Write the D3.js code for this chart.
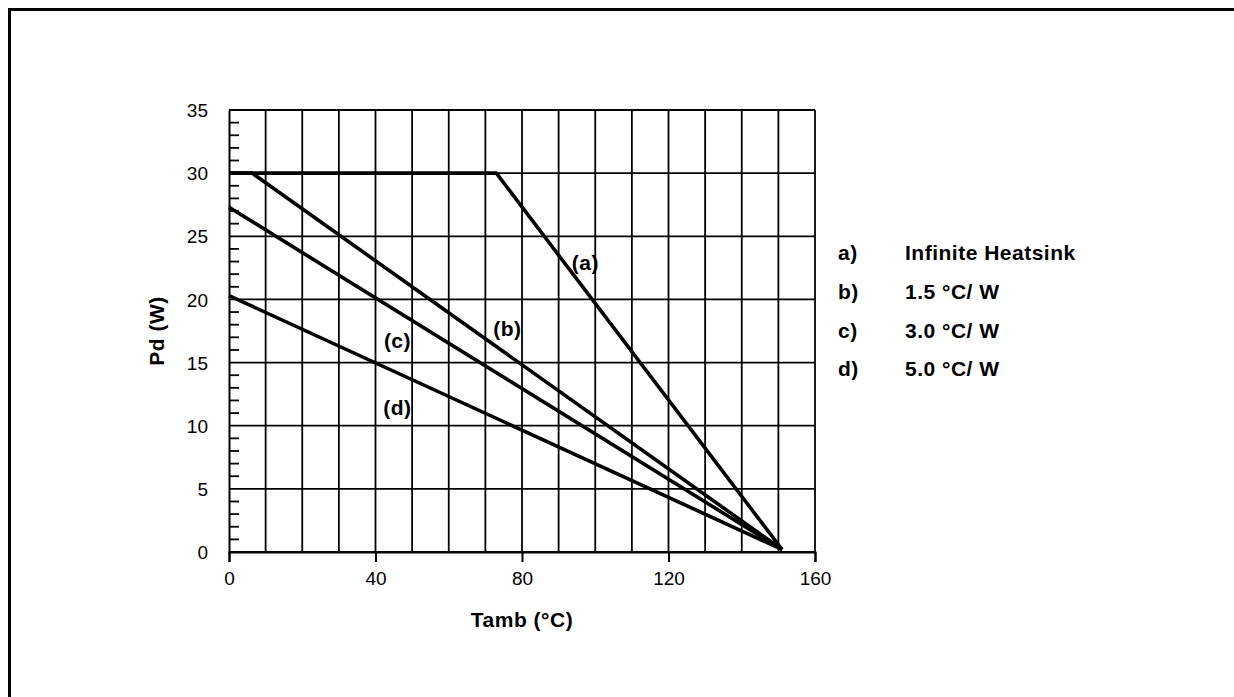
<!DOCTYPE html>
<html>
<head>
<meta charset="utf-8">
<script src="https://cdn.jsdelivr.net/npm/d3@7"></script>
<style>
  body { margin: 0; background: #fff; }
  text { font-family: "Liberation Sans", Arial, sans-serif; fill: #000; }
  .bold { font-weight: bold; letter-spacing: 0.5px; }
</style>
</head>
<body>
<svg width="1234" height="697"></svg>
<script>
// curve data: ambient temperature (degC) vs max dissipation (W)
var tempA = [0, 73, 151];
var pdA = [30, 30, 0.2];
var tempB = [0, 6.3, 151];
var pdB = [30, 30, 0.2];
var tempC = [0, 151];
var pdC = [27.3, 0.2];
var tempD = [0, 151];
var pdD = [20.3, 0.2];

var curveLabels = ["(a)", "(b)", "(c)", "(d)"];
var labelTemps = [97.3, 76, 46, 46];
var labelPds = [22.9, 17.7, 16.7, 11.4];

var legendKeys = ["a)", "b)", "c)", "d)"];
var legendTexts = ["Infinite Heatsink", "1.5 \u00B0C/ W", "3.0 \u00B0C/ W", "5.0 \u00B0C/ W"];

var xTicks = [0, 40, 80, 120, 160];
var yTicks = [0, 5, 10, 15, 20, 25, 30, 35];

var svg = d3.select("svg");

// outer frame (only top and left are in view)
svg.append("rect")
  .attr("x", 9.5).attr("y", 9.5)
  .attr("width", 1300).attr("height", 800)
  .attr("fill", "none").attr("stroke", "#000").attr("stroke-width", 3);

var x = d3.scaleLinear().domain([0, 160]).range([229, 815]);
var y = d3.scaleLinear().domain([0, 35]).range([552, 110]);

// grid
svg.append("g")
  .selectAll("line.v")
  .data(d3.range(10, 161, 10))
  .enter()
  .append("line")
  .attr("x1", d => x(d)).attr("x2", d => x(d))
  .attr("y1", y(35)).attr("y2", y(0))
  .attr("stroke", "#000").attr("stroke-width", 1.8);

svg.append("g")
  .selectAll("line.h")
  .data(yTicks)
  .enter()
  .append("line")
  .attr("x1", x(0)).attr("x2", x(160))
  .attr("y1", d => y(d)).attr("y2", d => y(d))
  .attr("stroke", "#000").attr("stroke-width", 1.8);

// minor ticks on the left axis
svg.append("g")
  .selectAll("line")
  .data(d3.range(1, 35).filter(d => d % 5 != 0))
  .enter()
  .append("line")
  .attr("x1", x(0)).attr("x2", x(0) + 10)
  .attr("y1", d => y(d)).attr("y2", d => y(d))
  .attr("stroke", "#000").attr("stroke-width", 1.8);

var xAxis = d3.axisBottom(x).tickValues(xTicks).tickSize(10).tickPadding(10);
var yAxis = d3.axisLeft(y).tickValues(yTicks).tickSize(0).tickPadding(21);

var gx = svg.append("g")
  .attr("transform", "translate(0," + y(0) + ")")
  .call(xAxis);
var gy = svg.append("g")
  .attr("transform", "translate(" + x(0) + ",0)")
  .call(yAxis);

[gx, gy].forEach(function(g) {
  g.select(".domain").attr("stroke", "#000").attr("stroke-width", 2);
  g.selectAll(".tick line").attr("stroke", "#000").attr("stroke-width", 2);
  g.selectAll(".tick text")
    .attr("font-family", "Liberation Sans, Arial, sans-serif")
    .attr("font-size", 19).attr("fill", "#000");
});
gy.selectAll(".tick text").attr("dy", "0.35em");

// curves
var line = d3.line().x(d => x(d[0])).y(d => y(d[1]));
var curves = [
  d3.zip(tempA, pdA),
  d3.zip(tempB, pdB),
  d3.zip(tempC, pdC),
  d3.zip(tempD, pdD)
];
svg.append("g")
  .selectAll("path")
  .data(curves)
  .enter()
  .append("path")
  .attr("d", line)
  .attr("fill", "none")
  .attr("stroke", "#000")
  .attr("stroke-width", 3.6)
  .attr("stroke-linejoin", "round");

// curve labels
svg.append("g")
  .selectAll("text")
  .data(curveLabels)
  .enter()
  .append("text")
  .attr("class", "bold")
  .attr("x", (d, i) => x(labelTemps[i]))
  .attr("y", (d, i) => y(labelPds[i]))
  .attr("dy", "0.35em")
  .attr("text-anchor", "middle")
  .attr("font-size", 21)
  .text(d => d);

// axis titles
svg.append("text")
  .attr("class", "bold")
  .attr("x", x(80)).attr("y", 620)
  .attr("dy", "0.35em")
  .attr("text-anchor", "middle")
  .attr("font-size", 21)
  .text("Tamb (\u00B0C)");

svg.append("text")
  .attr("class", "bold")
  .attr("transform", "translate(157," + y(17.5) + ") rotate(-90)")
  .attr("dy", "0.35em")
  .attr("text-anchor", "middle")
  .attr("font-size", 21)
  .text("Pd (W)");

// legend
var legend = svg.append("g")
  .selectAll("g")
  .data(legendKeys)
  .enter()
  .append("g")
  .attr("transform", (d, i) => "translate(838," + (253 + i * 38.7) + ")");
legend.append("text")
  .attr("class", "bold")
  .attr("dy", "0.35em")
  .attr("font-size", 21)
  .text(d => d);
legend.append("text")
  .attr("class", "bold")
  .attr("x", 67)
  .attr("dy", "0.35em")
  .attr("font-size", 21)
  .text((d, i) => legendTexts[i]);
</script>
</body>
</html>
